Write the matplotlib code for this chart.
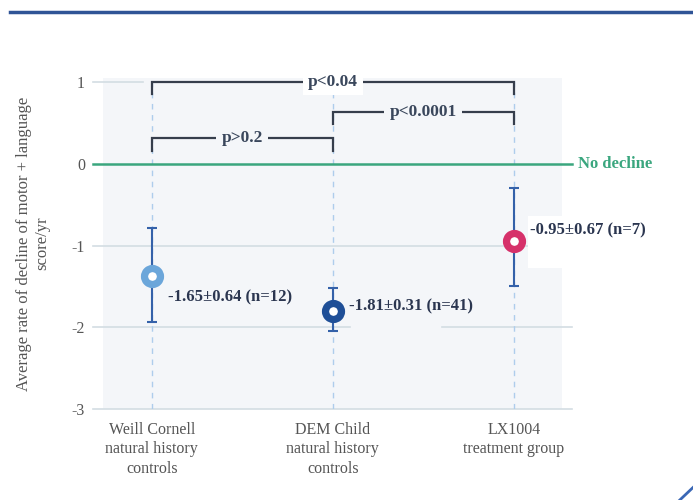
import matplotlib
matplotlib.use("Agg")
import matplotlib.pyplot as plt
from matplotlib.lines import Line2D

plt.rcParams["font.family"] = ["Liberation Serif", "DejaVu Serif"]

groups = ["Weill Cornell\nnatural history\ncontrols",
          "DEM Child\nnatural history\ncontrols",
          "LX1004\ntreatment group"]
means = [-1.37, -1.80, -0.94]
err_low = [0.57, 0.24, 0.55]
err_high = [0.59, 0.28, 0.65]
point_labels = ["-1.65\u00b10.64 (n=12)", "-1.81\u00b10.31 (n=41)", "-0.95\u00b10.67 (n=7)"]
colors = ["#6ba6da", "#1f4f97", "#d6316a"]

# bracket comparisons: (left group, right group, height, text)
brackets = [(0, 2, 1.00, "p<0.04"),
            (1, 2, 0.64, "p<0.0001"),
            (0, 1, 0.31, "p>0.2")]
yticks = [1, 0, -1, -2, -3]

bg = "#f4f6f9"
gridc = "#d3dde3"
green = "#3aa67e"
textc = "#2b3650"

fig = plt.figure(figsize=(6.93, 5.0), dpi=100)
ax = fig.add_axes([0.1486, 0.182, 0.662, 0.662])
ax.set_facecolor(bg)
ax.set_xlim(-0.27, 2.265)
ax.set_ylim(-3, 1.05)
for s in ax.spines.values():
    s.set_visible(False)

# gridlines extending a little past the plot area
x0, x1 = -0.022, 1.022
yt = ax.get_yaxis_transform()
ax.plot([x0, x1], [-3, -3], color=gridc, lw=1.2, transform=yt, clip_on=False, zorder=1)
ax.plot([x0, x1], [-1, -1], color=gridc, lw=1.2, transform=yt, clip_on=False, zorder=1)
ax.plot([x0, 0.538], [-2, -2], color=gridc, lw=1.2, transform=yt, clip_on=False, zorder=1)
ax.plot([0.74, x1], [-2, -2], color=gridc, lw=1.2, transform=yt, clip_on=False, zorder=1)
ax.plot([x0, 0.087], [1, 1], color=gridc, lw=1.2, transform=yt, clip_on=False, zorder=1)

# no decline line
ax.plot([x0, x1], [0, 0], color=green, lw=1.8, transform=yt, clip_on=False, zorder=2)
ax.text(1.035, 0, "No decline", color=green, fontsize=12, fontweight="bold",
        va="center", ha="left", transform=yt)

# vertical dashed guides
for i in range(len(groups)):
    ax.axvline(i, color="#aecdec", lw=1, ls=(0, (4, 4)), zorder=1)

# points with error bars
for i, (m, lo, hi, c, lab) in enumerate(zip(means, err_low, err_high, colors, point_labels)):
    ax.errorbar(i, m, yerr=[[lo], [hi]], fmt="none", ecolor="#3461a9", elinewidth=1.5,
                capsize=3.5, capthick=1.5, zorder=3)
    ax.plot(i, m, "o", ms=11.5, mew=5.2, mfc="white", mec=c, zorder=4)
    dy = {0: -0.26, 1: 0.06, 2: 0.12}[i]
    ax.text(i + 0.09, m + dy, lab, fontsize=12, fontweight="bold", color=textc,
            va="center", ha="left", zorder=5)

# white patch behind the treatment-group label
ax.fill_between([1.99 + 0.09, 2.5], -1.28, -0.64, color="white", lw=0, zorder=2, clip_on=False)

# significance brackets
for a, b, h, t in brackets:
    ax.plot([a, a, b, b], [h - 0.15, h, h, h - 0.15], color="#363e4c", lw=1.6,
            solid_joinstyle="miter", zorder=3)
    fc = "white" if b - a == 2 else bg
    ax.text((a + b) / 2, h, t, fontsize=12.5, fontweight="bold", color="#3a475c",
            ha="center", va="center", zorder=4,
            bbox=dict(facecolor=fc, edgecolor="none", boxstyle="square,pad=0.3"))

ax.set_xticks(range(len(groups)))
ax.set_xticklabels(groups, fontsize=11.5, color="#555555", linespacing=1.33)
ax.set_yticks(yticks)
ax.set_yticklabels([str(v) for v in yticks], fontsize=11.5, color="#555555")
ax.tick_params(axis="both", length=0)
ax.tick_params(axis="y", pad=13)
ax.tick_params(axis="x", pad=9)
ax.set_ylabel("Average rate of decline of motor + language\nscore/yr", fontsize=12,
              color="#555555", linespacing=1.25, labelpad=15)

# slide decorations
fig.add_artist(Line2D([0.015, 1.0], [0.977, 0.977], color="#2f5496", lw=2.5))
fig.add_artist(Line2D([0.981, 1.0], [0.0, 0.025], color="#3a67b5", lw=2))

fig.savefig("out.png", dpi=100)
